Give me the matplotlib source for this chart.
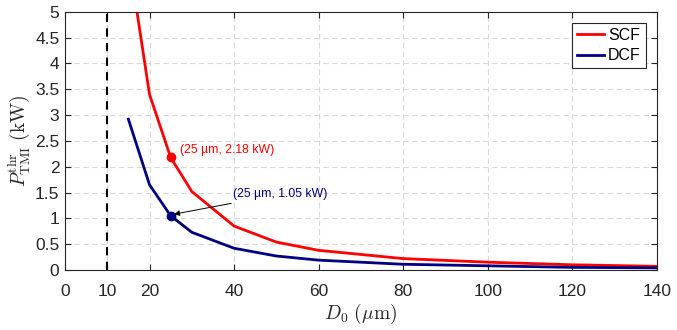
import matplotlib
import matplotlib.pyplot as plt

matplotlib.use("agg")

plt.rcParams["font.family"] = ["Liberation Sans", "DejaVu Sans"]
plt.rcParams["mathtext.fontset"] = "cm"

# data
d0 = [15, 20, 25, 30, 40, 50, 60, 80, 100, 120, 140]
scf = [6.1, 3.4, 2.18, 1.52, 0.85, 0.54, 0.38, 0.22, 0.15, 0.10, 0.07]
dcf = [2.92, 1.65, 1.05, 0.73, 0.42, 0.27, 0.19, 0.11, 0.08, 0.05, 0.04]
cutoff = 10
mark_x = 25
mark_scf = 2.18
mark_dcf = 1.05
x_ticks = [0, 10, 20, 40, 60, 80, 100, 120, 140]
y_ticks = [0, 0.5, 1, 1.5, 2, 2.5, 3, 3.5, 4, 4.5, 5]
y_labels = ["0", "0.5", "1", "1.5", "2", "2.5", "3", "3.5", "4", "4.5", "5"]

red = "#ff0000"
navy = "#000080"
dark = "#262626"

fig = plt.figure(figsize=(6.77, 3.3), dpi=100)
ax = fig.add_axes([0.096, 0.182, 0.874, 0.782])

ax.plot(d0, scf, color=red, lw=2, label="SCF")
ax.plot(d0, dcf, color=navy, lw=2, label="DCF")
ax.axvline(cutoff, color="black", ls=(0, (4, 3)), lw=1.5)

# marked points at 25 um
ax.plot(mark_x, mark_scf, "o", color=red, ms=6)
ax.plot(mark_x, mark_dcf, "o", color=navy, ms=6)
ax.annotate("(25 µm, 2.18 kW)", xy=(mark_x, mark_scf), xytext=(27.2, 2.32),
            color=red, fontsize=8.8, va="center")
ax.annotate("(25 µm, 1.05 kW)", xy=(mark_x + 0.8, mark_dcf + 0.03),
            xytext=(39.8, 1.47), color=navy, fontsize=8.8, va="center",
            arrowprops=dict(arrowstyle="-|>", color="black", lw=0.7,
                            mutation_scale=8, shrinkA=2, shrinkB=0))

ax.set_xlim(0, 140)
ax.set_ylim(0, 5)
ax.set_xticks(x_ticks)
ax.set_yticks(y_ticks)
ax.set_yticklabels(y_labels)
ax.grid(True, ls=(0, (5, 3)), color="#d9d9d9", lw=0.8)
ax.tick_params(direction="in", top=True, right=True, length=4, width=0.8,
               labelsize=12.5, colors=dark, pad=4)
ax.tick_params(axis="x", pad=10)
for s in ax.spines.values():
    s.set_color(dark)
    s.set_linewidth(0.8)

ax.set_xlabel(r"$D_0\ (\mu\mathrm{m})$", fontsize=14, color=dark, labelpad=2)
ax.set_ylabel(r"$P_{\mathrm{TMI}}^{\mathrm{thr}}\ (\mathrm{kW})$", fontsize=14,
              color=dark, labelpad=2)

leg = ax.legend(loc="upper right", fontsize=11.5, handlelength=1.7,
                fancybox=False, framealpha=1, borderaxespad=0.7,
                handletextpad=0.25, borderpad=0.3, labelspacing=0.35)
leg.get_frame().set_edgecolor(dark)
leg.get_frame().set_linewidth(0.8)

plt.savefig("out.png", dpi=100)
